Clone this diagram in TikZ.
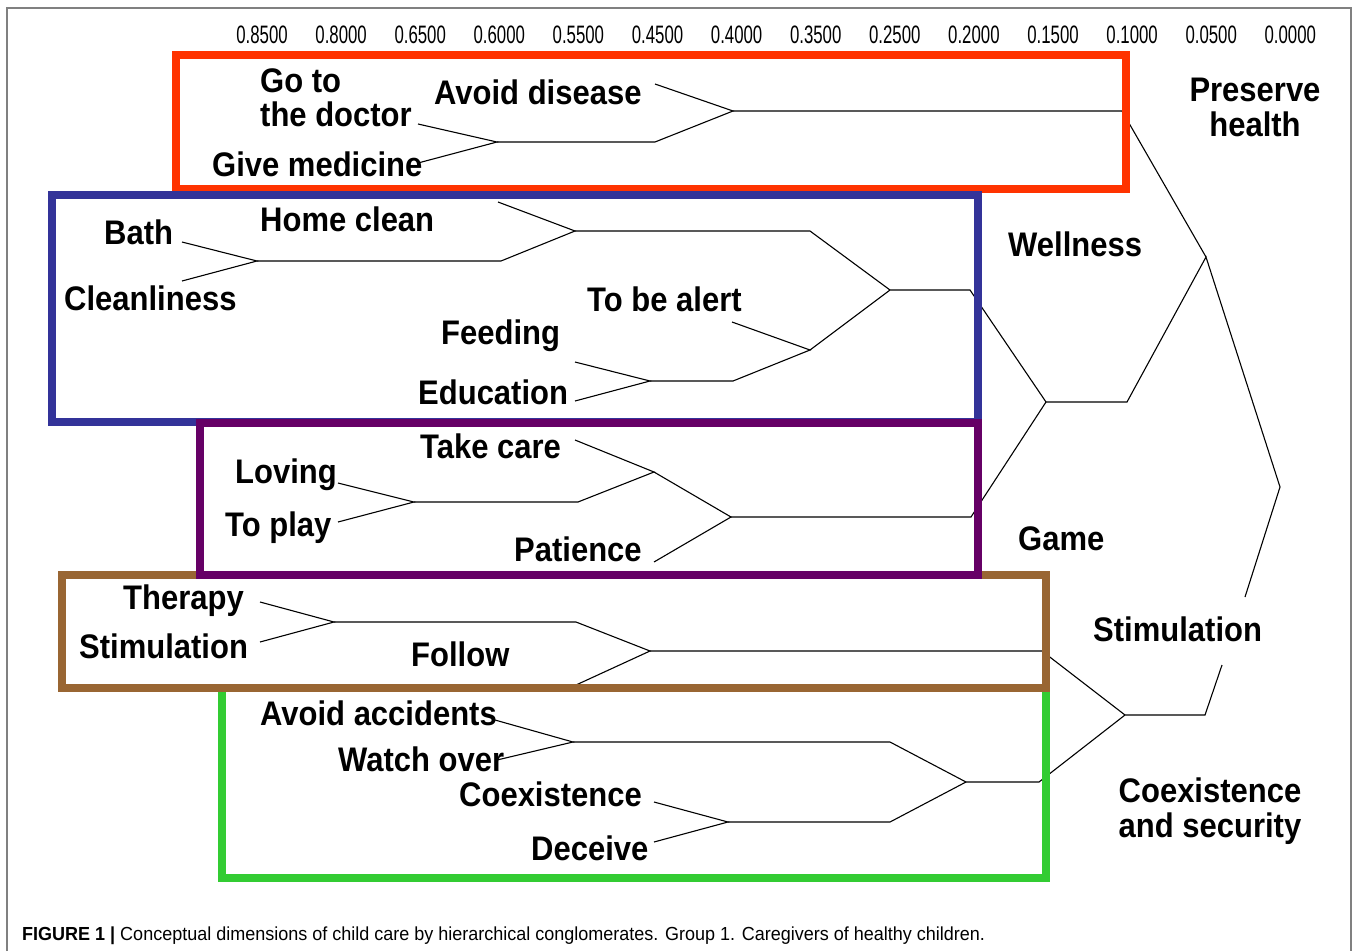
\documentclass[tikz,border=0pt]{standalone}
\usepackage{fontspec}
\setmainfont{Liberation Sans}
\usepackage{tikz}
\usetikzlibrary{positioning}

\definecolor{boxred}{HTML}{FF3300}
\definecolor{boxblue}{HTML}{333399}
\definecolor{boxpurple}{HTML}{660066}
\definecolor{boxbrown}{HTML}{996633}
\definecolor{boxgreen}{HTML}{33CC33}

\begin{document}
\begin{tikzpicture}[x=1pt, y=-1pt,
	lbl/.style={font=\bfseries\fontsize{31}{31.5}\selectfont, inner sep=0pt, anchor=base west, yscale=1.1},
	axlbl/.style={font=\fontsize{24}{26}\selectfont, inner sep=0pt, anchor=base, xscale=0.7, yscale=1.05},
	branch/.style={line width=1.1pt},
	group/.style={line width=8pt}]
	\useasboundingbox (0,0) rectangle (1358,951);
	\draw[gray, line width=1.5pt] (7,951) -- (7,8) -- (1351,8) -- (1351,951);
	
	% distance scale
	\foreach \val [count=\i from 0] in {0.8500,0.8000,0.6500,0.6000,0.5500,0.4500,0.4000,0.3500,0.2500,0.2000,0.1500,0.1000,0.0500,0.0000}
		\node[axlbl] (ax\i) at ({262+79.1*\i},43) {\val};
	
	% leaf ends and joins
	\coordinate (gd) at (418,124);
	\coordinate (gm) at (418,163);
	\coordinate (j1) at (497,142);
	\coordinate (j1e) at (655,142);
	\coordinate (ad) at (655,84);
	\coordinate (j2) at (733,111);
	\coordinate (j2e) at (1122,111);
	\coordinate (j3) at (1206,257);
	
	\coordinate (bath) at (182,242);
	\coordinate (clean) at (182,281);
	\coordinate (j4) at (257,261);
	\coordinate (j4e) at (501,261);
	\coordinate (hc) at (498,202);
	\coordinate (j5) at (575,231);
	\coordinate (j5e) at (810,231);
	\coordinate (j6) at (890,290);
	\coordinate (j6e) at (970,290);
	\coordinate (feed) at (575,362);
	\coordinate (edu) at (575,401);
	\coordinate (j7) at (650,381);
	\coordinate (j7e) at (733,381);
	\coordinate (alert) at (732,322);
	\coordinate (j8) at (810,350);
	\coordinate (j10) at (1046,402);
	\coordinate (j10e) at (1127,402);
	
	\coordinate (lov) at (338,483);
	\coordinate (play) at (338,522);
	\coordinate (j11) at (414,502);
	\coordinate (j11e) at (578,502);
	\coordinate (tc) at (575,440);
	\coordinate (j12) at (654,472);
	\coordinate (pat) at (654,562);
	\coordinate (j13) at (731,517);
	\coordinate (j13e) at (971,517);
	
	\coordinate (ther) at (260,602);
	\coordinate (stim) at (260,642);
	\coordinate (j14) at (334,622);
	\coordinate (j14e) at (576,622);
	\coordinate (fol) at (576,685);
	\coordinate (j15) at (650,651);
	\coordinate (j15e) at (1042,651);
	\coordinate (j16) at (1125,715);
	\coordinate (j16e) at (1205,715);
	
	\coordinate (acc) at (495,720);
	\coordinate (watch) at (497,760);
	\coordinate (j17) at (573,742);
	\coordinate (j17e) at (890,742);
	\coordinate (j18) at (966,782);
	\coordinate (j18e) at (1039,782);
	\coordinate (coex) at (654,802);
	\coordinate (dec) at (654,842);
	\coordinate (j19) at (728,822);
	\coordinate (j19e) at (890,822);
	
	\coordinate (root) at (1280,487);
	\coordinate (r1) at (1245,597);
	\coordinate (r2) at (1222,665);
	
	% dendrogram
	\draw[branch] (gd) -- (j1) -- (gm);
	\draw[branch] (j1) -- (j1e) -- (j2) -- (ad);
	\draw[branch] (j2) -- (j2e) -- (j3);
	
	\draw[branch] (bath) -- (j4) -- (clean);
	\draw[branch] (j4) -- (j4e) -- (j5) -- (hc);
	\draw[branch] (j5) -- (j5e) -- (j6);
	\draw[branch] (feed) -- (j7) -- (edu);
	\draw[branch] (j7) -- (j7e) -- (j8) -- (alert);
	\draw[branch] (j8) -- (j6) -- (j6e) -- (j10);
	
	\draw[branch] (lov) -- (j11) -- (play);
	\draw[branch] (j11) -- (j11e) -- (j12) -- (tc);
	\draw[branch] (j12) -- (j13) -- (pat);
	\draw[branch] (j13) -- (j13e) -- (j10);
	\draw[branch] (j10) -- (j10e) -- (j3) -- (root) -- (r1);
	
	\draw[branch] (ther) -- (j14) -- (stim);
	\draw[branch] (j14) -- (j14e) -- (j15) -- (fol);
	\draw[branch] (j15) -- (j15e) -- (j16);
	
	\draw[branch] (acc) -- (j17) -- (watch);
	\draw[branch] (j17) -- (j17e) -- (j18);
	\draw[branch] (coex) -- (j19) -- (dec);
	\draw[branch] (j19) -- (j19e) -- (j18);
	\draw[branch] (j18) -- (j18e) -- (j16) -- (j16e) -- (r2);
	
	% groups
	\draw[group, boxred] (176,55) rectangle (1126,189);
	\draw[group, boxblue] (52,195) rectangle (978,422);
	\draw[group, boxgreen] (222,688) rectangle (1046,878);
	\draw[group, boxbrown] (62,575) rectangle (1046,688);
	\draw[group, boxpurple] (200,423) rectangle (978,575);
	
	% leaves
	\node[lbl, anchor=north west, align=left] (gotodoc) at (260,68) {Go to\\the doctor};
	\node[lbl] (avdis) at (434,104) {Avoid disease};
	\node[lbl] (givmed) at (212,176) {Give medicine};
	\node[lbl] (homecl) at (260,231) {Home clean};
	\node[lbl] (bathl) at (104,244) {Bath};
	\node[lbl] (cleanl) at (64,310) {Cleanliness};
	\node[lbl] (alertl) at (587,311) {To be alert};
	\node[lbl] (feedl) at (441,344) {Feeding};
	\node[lbl] (edul) at (418,404) {Education};
	\node[lbl] (takec) at (420,458) {Take care};
	\node[lbl] (lovl) at (235,483) {Loving};
	\node[lbl] (playl) at (225,536) {To play};
	\node[lbl] (patl) at (514,561) {Patience};
	\node[lbl] (therl) at (123,609) {Therapy};
	\node[lbl] (stiml) at (79,658) {Stimulation};
	\node[lbl] (foll) at (411,666) {Follow};
	\node[lbl] (accl) at (260,725) {Avoid accidents};
	\node[lbl] (watchl) at (338,771) {Watch over};
	\node[lbl] (coexl) at (459,806) {Coexistence};
	\node[lbl] (decl) at (531,860) {Deceive};
	
	% dimensions
	\node[lbl, anchor=north, align=center] (health) at (1255,78) {Preserve\\health};
	\node[lbl] (well) at (1008,256) {Wellness};
	\node[lbl] (game) at (1018,550) {Game};
	\node[lbl] (stimd) at (1093,641) {Stimulation};
	\node[lbl, anchor=north, align=center] (secur) at (1210,778) {Coexistence\\and security};
	
	\node[anchor=base west, inner sep=0pt, font=\fontsize{18}{20}\selectfont, yscale=1.05] (caption) at (22,940) {\textbf{FIGURE 1 |} Conceptual dimensions of child care by hierarchical conglomerates. Group 1. Caregivers of healthy children.};
\end{tikzpicture}
\end{document}
